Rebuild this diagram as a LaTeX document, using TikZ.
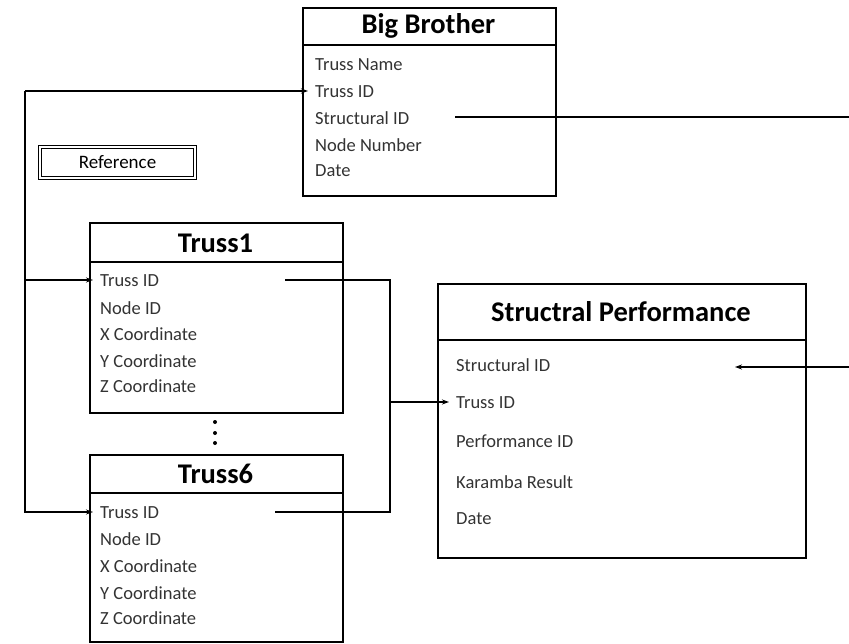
\documentclass[tikz,border=0pt]{standalone}
\usepackage{fontspec}
\setmainfont{Carlito}
\usetikzlibrary{arrows.meta}
\begin{document}
\begin{tikzpicture}[x=1pt,y=-1pt,
  box/.style={draw, line width=1.8pt, inner sep=0pt, anchor=north west},
  sep/.style={line width=1.8pt},
  ttl/.style={font=\fontsize{28.5}{28.5}\selectfont\bfseries, inner sep=0pt},
  entry/.style={font=\fontsize{18.5}{18.5}\selectfont, text=black!80, anchor=west, inner xsep=7pt, inner ysep=2pt},
  conn/.style={line width=1.4pt},
  arr/.style={conn, -{Stealth[length=7pt,width=5pt]}},
  refbox/.style={draw, double, line width=1.2pt, double distance=1.6pt, minimum width=155pt, minimum height=31pt, inner sep=0pt, font=\fontsize{19}{19}\selectfont}
]
\useasboundingbox (0,0) rectangle (849,643);

% Big Brother
\node[box, minimum width=253pt, minimum height=188pt] (bb) at (302,7) {};
\node[ttl] (bbt) at (428.5,26) {Big Brother};
\draw[sep] (bb.west |- 0,45) -- (bb.east |- 0,45);
\node[entry] (bbname) at (308,65) {Truss Name};
\node[entry] (bbtid) at (308,92) {Truss ID};
\node[entry] (bbsid) at (308,118) {Structural ID};
\node[entry] (bbnn) at (308,145) {Node Number};
\node[entry] (bbdate) at (308,171) {Date};

% Reference
\node[refbox] (ref) at (117.5,162.5) {Reference};

% Truss1
\node[box, minimum width=253pt, minimum height=190pt] (t1) at (89,222) {};
\node[ttl] (t1t) at (215.5,243) {Truss1};
\draw[sep] (t1.west |- 0,262) -- (t1.east |- 0,262);
\node[entry] (t1tid) at (93,281) {Truss ID};
\node[entry] (t1nid) at (93,308) {Node ID};
\node[entry] (t1x) at (93,334) {X Coordinate};
\node[entry] (t1y) at (93,361) {Y Coordinate};
\node[entry] (t1z) at (93,386) {Z Coordinate};

% dots
\fill (215,422) circle (2pt);
\fill (215,433) circle (2pt);
\fill (215,443) circle (2pt);

% Truss6
\node[box, minimum width=253pt, minimum height=187pt] (t6) at (89,454) {};
\node[ttl] (t6t) at (215.5,474) {Truss6};
\draw[sep] (t6.west |- 0,493) -- (t6.east |- 0,493);
\node[entry] (t6tid) at (93,513) {Truss ID};
\node[entry] (t6nid) at (93,539) {Node ID};
\node[entry] (t6x) at (93,566) {X Coordinate};
\node[entry] (t6y) at (93,593) {Y Coordinate};
\node[entry] (t6z) at (93,618) {Z Coordinate};

% Structral Performance
\node[box, minimum width=368pt, minimum height=274pt] (sp) at (437,283) {};
\node[ttl] (spt) at (621,312) {Structral Performance};
\draw[sep] (sp.west |- 0,340) -- (sp.east |- 0,340);
\node[entry] (spsid) at (449,365) {Structural ID};
\node[entry] (sptid) at (449,403) {Truss ID};
\node[entry] (sppid) at (449,441) {Performance ID};
\node[entry] (spkr) at (449,482) {Karamba Result};
\node[entry] (spdate) at (449,519) {Date};

% connector: Truss ID family
\coordinate (lc) at (25,91);
\coordinate (lt1) at (25,280);
\coordinate (lt6) at (25,512);
\draw[arr] (lc) -- (lc -| bbtid.west);
\draw[arr] (lc) -- (lt6) -- (lt6 -| t6tid.west);
\draw[arr] (lt1) -- (lt1 -| t1tid.west);

% connector: Truss to Structral Performance
\coordinate (t1e) at (285,280);
\coordinate (t6e) at (275,512);
\coordinate (rc1) at (390,280);
\coordinate (rc6) at (390,512);
\coordinate (rcm) at (390,402);
\draw[conn] (t1e) -- (rc1) -- (rc6) -- (t6e);
\draw[arr] (rcm) -- (rcm -| sptid.west);

% connector: Structural ID
\coordinate (bbse) at (455,117);
\coordinate (spse) at (735,367);
\coordinate (ro1) at (856,117);
\coordinate (ro2) at (856,367);
\draw[conn] (bbse) -- (ro1) -- (ro2);
\draw[arr] (ro2) -- (spse);
\end{tikzpicture}
\end{document}
